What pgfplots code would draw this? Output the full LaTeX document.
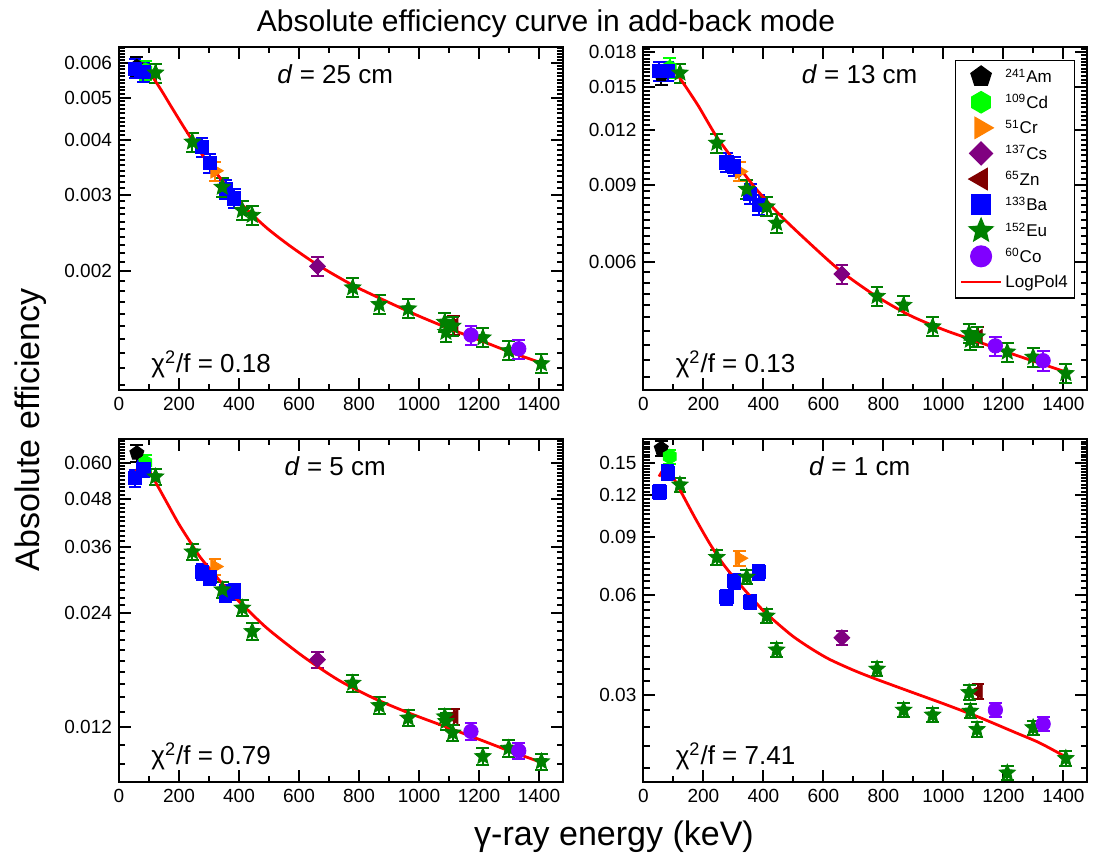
\documentclass[border=0pt]{standalone}
\usepackage{fontspec}
\setmainfont{Liberation Sans}
\usepackage{pgfplots}
\pgfplotsset{compat=1.18}
\usetikzlibrary{plotmarks}

\definecolor{cCd}{RGB}{0,255,0}
\definecolor{cCr}{RGB}{255,128,0}
\definecolor{cCs}{RGB}{128,0,128}
\definecolor{cZn}{RGB}{128,0,0}
\definecolor{cBa}{RGB}{0,0,255}
\definecolor{cEu}{RGB}{0,128,0}
\definecolor{cCo}{RGB}{128,0,255}

\pgfdeclareplotmark{hexagon*}{%
  \pgfpathmoveto{\pgfpointpolar{90}{\pgfplotmarksize}}%
  \pgfpathlineto{\pgfpointpolar{150}{\pgfplotmarksize}}%
  \pgfpathlineto{\pgfpointpolar{210}{\pgfplotmarksize}}%
  \pgfpathlineto{\pgfpointpolar{270}{\pgfplotmarksize}}%
  \pgfpathlineto{\pgfpointpolar{330}{\pgfplotmarksize}}%
  \pgfpathlineto{\pgfpointpolar{30}{\pgfplotmarksize}}%
  \pgfpathclose\pgfusepathqfillstroke}
\pgfdeclareplotmark{fstar}{%
  \pgfpathmoveto{\pgfpointpolar{90}{\pgfplotmarksize}}%
  \pgfpathlineto{\pgfpointpolar{126}{0.45\pgfplotmarksize}}%
  \pgfpathlineto{\pgfpointpolar{162}{\pgfplotmarksize}}%
  \pgfpathlineto{\pgfpointpolar{198}{0.45\pgfplotmarksize}}%
  \pgfpathlineto{\pgfpointpolar{234}{\pgfplotmarksize}}%
  \pgfpathlineto{\pgfpointpolar{270}{0.45\pgfplotmarksize}}%
  \pgfpathlineto{\pgfpointpolar{306}{\pgfplotmarksize}}%
  \pgfpathlineto{\pgfpointpolar{342}{0.45\pgfplotmarksize}}%
  \pgfpathlineto{\pgfpointpolar{18}{\pgfplotmarksize}}%
  \pgfpathlineto{\pgfpointpolar{54}{0.45\pgfplotmarksize}}%
  \pgfpathclose\pgfusepathqfillstroke}

\pgfplotsset{
  myebar/.style={/pgfplots/error bars/y dir=both, /pgfplots/error bars/y fixed relative=0.05,
    /pgfplots/error bars/error bar style={line width=1pt, solid},
    /pgfplots/error bars/error mark options={rotate=90, line width=1pt, mark size=3.2pt, solid}},
  mymk/.style={only marks, legend image code/.code={\draw[##1] plot coordinates {(10pt,0pt)};}},
  sAm/.style={color=black, mark=pentagon*, mark size=3.7pt, mymk, myebar},
  sCd/.style={color=cCd, mark=hexagon*, mark size=3.7pt, mymk, myebar},
  sCr/.style={color=cCr, mark=triangle*, mark size=4.2pt, mark options={rotate=-90}, mymk, myebar},
  sCs/.style={color=cCs, mark=square*, mark size=2.8pt, mark options={rotate=45}, mymk, myebar},
  sZn/.style={color=cZn, mark=triangle*, mark size=4.2pt, mark options={rotate=90}, mymk, myebar},
  sBa/.style={color=cBa, mark=square*, mark size=3.3pt, mymk, myebar},
  sEu/.style={color=cEu, mark=fstar, mark size=4.3pt, mymk, myebar},
  sCo/.style={color=cCo, mark=*, mark size=3.6pt, mymk, myebar},
  myfit/.style={color=red, line width=1.4pt, mark=none, smooth, tension=0.45,
    legend image code/.code={\draw[##1] (0pt,0pt) -- (20pt,0pt);}},
  mypanel/.style={
    scale only axis, width=222pt, height=171.5pt,
    xmin=0, xmax=1480,
    xtick={0,200,400,600,800,1000,1200,1400},
    minor xtick={100,300,500,700,900,1100,1300},
    xtick pos=both, ytick pos=both, xticklabel pos=left, yticklabel pos=left,
    tick align=inside, major tick length=6pt, minor tick length=3.2pt,
    every tick/.style={black, line width=1pt},
    axis line style={line width=1pt},
    tick label style={font=\fontsize{9.5}{11}\selectfont},
    /pgf/number format/assume math mode=true,
    /pgf/number format/1000 sep={}},
}

\begin{document}
\begin{tikzpicture}
\useasboundingbox (0,0) rectangle (546.5pt,429.5pt);

% ---------- d = 25 cm ----------
\begin{axis}[ymode=log, mypanel,
  ymin=0.00107, ymax=0.00653,
  ytick={0.002,0.003,0.004,0.005,0.006},
  yticklabels={0.002,0.003,0.004,0.005,0.006},
  minor ytick={0.0011,0.0012,0.0013,0.0014,0.0015,0.0016,0.0017,0.0018,0.0019,0.0021,0.0022,0.0023,0.0024,0.0025,0.0026,0.0027,0.0028,0.0029,0.0031,0.0032,0.0033,0.0034,0.0035,0.0036,0.0037,0.0038,0.0039,0.0041,0.0042,0.0043,0.0044,0.0045,0.0046,0.0047,0.0048,0.0049,0.0051,0.0052,0.0053,0.0054,0.0055,0.0056,0.0057,0.0058,0.0059,0.0061,0.0062,0.0063,0.0064,0.0065},
  at={(59.5pt,234.5pt)}, anchor=south west]
\addplot[sAm] coordinates {(59.5,0.00589)};
\addplot[sCd] coordinates {(88.0,0.00578)};
\addplot[sCr] coordinates {(320.1,0.00340)};
\addplot[sCs] coordinates {(661.7,0.002054)};
\addplot[sZn] coordinates {(1115.5,0.001504)};
\addplot[sBa] coordinates {(53.2,0.00583) (81.0,0.00573) (276.4,0.00385) (302.9,0.00354) (356.0,0.00309) (383.8,0.00294)};
\addplot[sEu] coordinates {(121.8,0.00570) (244.7,0.00396) (344.3,0.00312) (411.1,0.00276) (444.0,0.00269) (778.9,0.001836) (867.4,0.001681) (964.1,0.001643) (1085.8,0.001531) (1089.7,0.001452) (1112.1,0.00150) (1212.9,0.00141) (1299.1,0.001317) (1408.0,0.00123)};
\addplot[sCo] coordinates {(1173.2,0.00143) (1332.5,0.00133)};
\addplot[myfit] coordinates {(52,0.00567) (69,0.00598) (85,0.00593) (108,0.00563) (141,0.00520) (174,0.00477) (219,0.00425) (263,0.00382) (308,0.00347) (352,0.00318) (397,0.00291) (441,0.00271) (497,0.00250) (569,0.00229) (662,0.00207) (779,0.00186) (890,0.00171) (1000,0.00158) (1100,0.00148) (1204,0.00139) (1300,0.00131) (1400,0.00124)};
\node[anchor=base, font=\fontsize{13}{15}\selectfont] at (rel axis cs:0.487,0.893) {\textit{d} = 25 cm};
\node[anchor=base west, font=\fontsize{13}{15}\selectfont] at (rel axis cs:0.057,0.052) {χ\textsuperscript{2}/f = 0.18};
\end{axis}

% ---------- d = 13 cm ----------
\begin{axis}[ymode=log, mypanel,
  ymin=0.00308, ymax=0.0185,
  ytick={0.006,0.009,0.012,0.015,0.018},
  yticklabels={0.006,0.009,0.012,0.015,0.018},
  minor ytick={0.0033,0.0036,0.0039,0.0042,0.0045,0.0048,0.0051,0.0054,0.0057,0.0063,0.0066,0.0069,0.0072,0.0075,0.0078,0.0081,0.0084,0.0087,0.0093,0.0096,0.0099,0.0102,0.0105,0.0108,0.0111,0.0114,0.0117,0.0123,0.0126,0.0129,0.0132,0.0135,0.0138,0.0141,0.0144,0.0147,0.0153,0.0156,0.0159,0.0162,0.0165,0.0168,0.0171,0.0174,0.0177,0.0183},
  legend cell align=left,
  legend image post style={every mark/.append style={scale=1.45}},
  legend style={at={(0.702,0.962)}, anchor=north west, draw=black, line width=0.6pt,
    fill=white, font=\fontsize{8.5}{9}\selectfont, row sep=0.8pt, inner sep=2pt,
    nodes={inner xsep=1.5pt, inner ysep=1.5pt, text height=7.5pt, text depth=1.5pt}},
  at={(321.7pt,234.5pt)}, anchor=south west]
\addplot[sAm] coordinates {(59.5,0.0160)};
\addlegendentry{\textsuperscript{241}Am}
\addplot[sCd] coordinates {(88.0,0.0166)};
\addlegendentry{\textsuperscript{109}Cd}
\addplot[sCr] coordinates {(320.1,0.00965)};
\addlegendentry{\textsuperscript{51}Cr}
\addplot[sCs] coordinates {(661.7,0.00565)};
\addlegendentry{\textsuperscript{137}Cs}
\addplot[sZn] coordinates {(1115.5,0.00407)};
\addlegendentry{\textsuperscript{65}Zn}
\addplot[sBa] coordinates {(53.2,0.0163) (81.0,0.0163) (276.4,0.01012) (302.9,0.00991) (356.0,0.00859) (383.8,0.00811)};
\addlegendentry{\textsuperscript{133}Ba}
\addplot[sEu] coordinates {(121.8,0.01616) (244.7,0.01120) (344.3,0.00880) (411.1,0.00803) (444.0,0.00737) (778.9,0.00503) (867.4,0.00480) (964.1,0.00429) (1085.8,0.00414) (1089.7,0.00400) (1112.1,0.00407) (1212.9,0.00376) (1299.1,0.00366) (1408.0,0.00336)};
\addlegendentry{\textsuperscript{152}Eu}
\addplot[sCo] coordinates {(1173.2,0.00388) (1332.5,0.00359)};
\addlegendentry{\textsuperscript{60}Co}
\addplot[myfit] coordinates {(53,0.01602) (73,0.01687) (95,0.01660) (125,0.01560) (155,0.01455) (184,0.01357) (213,0.01255) (243,0.01160) (278,0.01075) (313,0.01000) (348,0.00930) (383,0.00869) (454,0.00770) (536,0.00681) (653,0.00577) (770,0.00506) (888,0.00455) (1005,0.00421) (1122,0.00395) (1239,0.00370) (1400,0.00340)};
\addlegendentry{LogPol4}
\node[anchor=base, font=\fontsize{13}{15}\selectfont] at (rel axis cs:0.487,0.893) {\textit{d} = 13 cm};
\node[anchor=base west, font=\fontsize{13}{15}\selectfont] at (rel axis cs:0.057,0.052) {χ\textsuperscript{2}/f = 0.13};
\end{axis}

% ---------- d = 5 cm ----------
\begin{axis}[ymode=log, mypanel,
  ymin=0.0086, ymax=0.0693,
  ytick={0.012,0.024,0.036,0.048,0.060},
  yticklabels={0.012,0.024,0.036,0.048,0.060},
  minor ytick={0.0096,0.0108,0.0132,0.0144,0.0156,0.0168,0.0180,0.0192,0.0204,0.0216,0.0228,0.0252,0.0264,0.0276,0.0288,0.0300,0.0312,0.0324,0.0336,0.0348,0.0372,0.0384,0.0396,0.0408,0.0420,0.0432,0.0444,0.0456,0.0468,0.0492,0.0504,0.0516,0.0528,0.0540,0.0552,0.0564,0.0576,0.0588,0.0612,0.0624,0.0636,0.0648,0.0660,0.0672,0.0684},
  at={(59.5pt,38.5pt)}, anchor=south west]
\addplot[sAm] coordinates {(59.5,0.0636)};
\addplot[sCd] coordinates {(88.0,0.0600)};
\addplot[sCr] coordinates {(320.1,0.0319)};
\addplot[sCs] coordinates {(661.7,0.0181)};
\addplot[sZn] coordinates {(1115.5,0.0128)};
\addplot[sBa] coordinates {(53.2,0.0546) (81.0,0.0578) (276.4,0.0309) (302.9,0.0300) (356.0,0.0271) (383.8,0.0274)};
\addplot[sEu] coordinates {(121.8,0.0551) (244.7,0.0349) (344.3,0.0277) (411.1,0.0248) (444.0,0.0215) (778.9,0.0157) (867.4,0.0137) (964.1,0.0127) (1085.8,0.0128) (1089.7,0.01244) (1112.1,0.0116) (1212.9,0.01005) (1299.1,0.01057) (1408.0,0.00974)};
\addplot[sCo] coordinates {(1173.2,0.0117) (1332.5,0.0104)};
\addplot[myfit] coordinates {(53,0.0562) (73,0.0595) (95,0.0580) (127,0.0524) (162,0.0467) (198,0.0415) (234,0.0374) (269,0.0339) (305,0.0313) (340,0.0290) (375,0.0270) (411,0.0253) (494,0.0219) (612,0.0185) (731,0.0160) (849,0.01432) (967,0.01308) (1086,0.01206) (1204,0.01112) (1300,0.01040) (1400,0.00974)};
\node[anchor=base, font=\fontsize{13}{15}\selectfont] at (rel axis cs:0.487,0.893) {\textit{d} = 5 cm};
\node[anchor=base west, font=\fontsize{13}{15}\selectfont] at (rel axis cs:0.057,0.052) {χ\textsuperscript{2}/f = 0.79};
\end{axis}

% ---------- d = 1 cm ----------
\begin{axis}[ymode=log, mypanel,
  ymin=0.01637, ymax=0.1773,
  ytick={0.03,0.06,0.09,0.12,0.15},
  yticklabels={0.03,0.06,0.09,0.12,0.15},
  minor ytick={0.018,0.021,0.024,0.027,0.033,0.036,0.039,0.042,0.045,0.048,0.051,0.054,0.057,0.063,0.066,0.069,0.072,0.075,0.078,0.081,0.084,0.087,0.093,0.096,0.099,0.102,0.105,0.108,0.111,0.114,0.117,0.123,0.126,0.129,0.132,0.135,0.138,0.141,0.144,0.147,0.153,0.156,0.159,0.162,0.165,0.168,0.171,0.174,0.177},
  at={(321.7pt,38.5pt)}, anchor=south west]
\addplot[sAm] coordinates {(59.5,0.166)};
\addplot[sCd] coordinates {(88.0,0.157)};
\addplot[sCr] coordinates {(320.1,0.0775)};
\addplot[sCs] coordinates {(661.7,0.0446)};
\addplot[sZn] coordinates {(1115.5,0.0307)};
\addplot[sBa] coordinates {(53.2,0.123) (81.0,0.1405) (276.4,0.0591) (302.9,0.0660) (356.0,0.0573) (383.8,0.0703)};
\addplot[sEu] coordinates {(121.8,0.129) (244.7,0.0780) (344.3,0.0680) (411.1,0.0519) (444.0,0.0410) (778.9,0.0359) (867.4,0.0270) (964.1,0.0261) (1085.8,0.0305) (1089.7,0.0268) (1112.1,0.0236) (1212.9,0.01745) (1299.1,0.0239) (1408.0,0.0193)};
\addplot[sCo] coordinates {(1173.2,0.0270) (1332.5,0.0245)};
\addplot[myfit] coordinates {(52,0.1366) (71,0.1448) (88,0.1414) (110,0.1304) (143,0.1147) (176,0.1010) (221,0.0858) (265,0.0746) (310,0.0664) (354,0.0598) (399,0.0539) (443,0.0496) (499,0.0450) (560,0.0413) (620,0.0384) (700,0.0356) (770,0.0336) (888,0.0307) (1005,0.0281) (1122,0.0256) (1239,0.0231) (1320,0.0215) (1403,0.0196)};
\node[anchor=base, font=\fontsize{13}{15}\selectfont] at (rel axis cs:0.487,0.893) {\textit{d} = 1 cm};
\node[anchor=base west, font=\fontsize{13}{15}\selectfont] at (rel axis cs:0.057,0.052) {χ\textsuperscript{2}/f = 7.41};
\end{axis}

\node[anchor=base, font=\fontsize{15}{18}\selectfont] at (273pt,413.5pt) {Absolute efficiency curve in add-back mode};
\node[anchor=base, rotate=90, font=\fontsize{17}{20}\selectfont] at (20pt,214.5pt) {Absolute efficiency};
\node[anchor=base, font=\fontsize{17}{20}\selectfont] at (307pt,7pt) {γ-ray energy (keV)};
\end{tikzpicture}
\end{document}
